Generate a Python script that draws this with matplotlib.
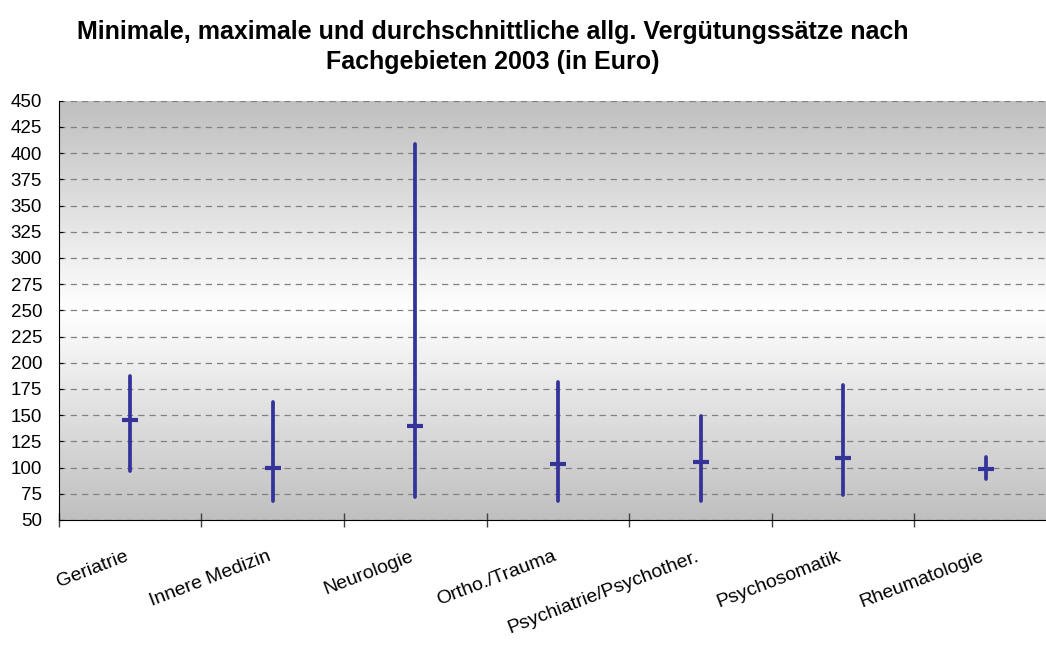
import numpy as np
import matplotlib.pyplot as plt

# Werte (Euro)
fachgebiete = ['Geriatrie', 'Innere Medizin', 'Neurologie', 'Ortho./Trauma',
               'Psychiatrie/Psychother.', 'Psychosomatik', 'Rheumatologie']
minimum = [97, 68, 72, 68, 68, 74, 89]
maximum = [187, 163, 409, 182, 149, 179, 110]
durchschnitt = [145, 100, 140, 103, 105, 109, 99]

plt.rcParams['font.family'] = ['Liberation Sans', 'DejaVu Sans']

fig = plt.figure(figsize=(10.46, 6.5), dpi=100)
ax = fig.add_axes([0.0561, 0.2, 0.9545, 0.645])

n = len(fachgebiete)
x = np.arange(n)
ax.set_xlim(-0.5, n - 0.5)
ax.set_ylim(50, 450)

# grauer Verlauf im Hintergrund (Rand grau, Mitte weiss)
t = np.linspace(0, 1, 256)
shade = 0.75 + 0.25 * (1 - np.abs(2 * t - 1))
grad = np.dstack([shade, shade, shade])[0][:, None, :]
ax.imshow(grad, extent=[-0.5, n - 0.5, 50, 450], aspect='auto', origin='lower',
          zorder=0, interpolation='bicubic')

ax.set_yticks(np.arange(50, 451, 25))
ax.yaxis.grid(True, linestyle=(0, (5, 4)), color='#808080', linewidth=0.9)
ax.set_axisbelow(True)

col = '#333399'
ax.vlines(x, minimum, maximum, color=col, linewidth=2.7, capstyle='round', zorder=3)
ax.plot(x, durchschnitt, linestyle='none', marker='_', markersize=12,
        markeredgewidth=3.0, color=col, zorder=4)

# Kategoriegrenzen als Ticks
ax.set_xticks(np.arange(-0.5, n, 1.0))
ax.set_xticklabels([])
ax.tick_params(axis='x', direction='inout', length=10, width=1, color='#404040')
ax.tick_params(axis='y', direction='in', length=3, labelsize=13.5, pad=12)
for i, name in enumerate(fachgebiete):
    ax.annotate(name, xy=(i, 50), xycoords='data', xytext=(-4, -20),
                textcoords='offset points', rotation=21, ha='right', va='top',
                rotation_mode='anchor', fontsize=14)

for s in ['top', 'right']:
    ax.spines[s].set_visible(False)
ax.spines['left'].set_color('black')
ax.spines['bottom'].set_color('black')

fig.text(0.471, 0.928, 'Minimale, maximale und durchschnittliche allg. Vergütungssätze nach\nFachgebieten 2003 (in Euro)',
         ha='center', va='center', fontsize=18, fontweight='bold', linespacing=1.3)

fig.savefig('out.png', dpi=100)
